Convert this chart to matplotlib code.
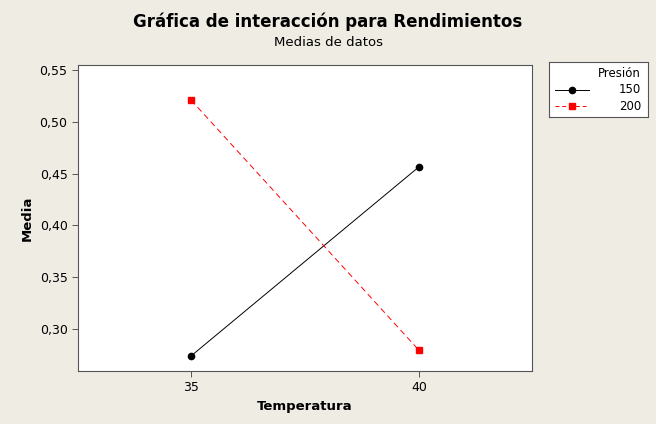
import matplotlib.pyplot as plt
from matplotlib.lines import Line2D

temperatura = [35, 40]
media_150 = [0.274, 0.4565]
media_200 = [0.521, 0.2795]
yticks = [0.30, 0.35, 0.40, 0.45, 0.50, 0.55]

bg = '#EFECE4'
fig = plt.figure(figsize=(6.56, 4.24), dpi=100, facecolor=bg)
ax = fig.add_axes([78/656, 1-371/424, 454/656, 306/424])
ax.set_facecolor('white')

ax.plot(temperatura, media_150, color='black', lw=0.7, marker='o', ms=4.5, label='150')
ax.plot(temperatura, media_200, color='#FF0000', lw=0.7, ls=(0, (6, 4)), marker='s', ms=4.5, label='200')

ax.set_xlim(32.52, 42.48)
ax.set_ylim(0.2595, 0.5548)
ax.set_xticks(temperatura)
ax.set_yticks(yticks)
ax.set_yticklabels([f'{v:.2f}'.replace('.', ',') for v in yticks])
ax.tick_params(labelsize=9, length=4, width=0.7, color='#555555')
for s in ax.spines.values():
    s.set_color('#555555')
    s.set_linewidth(0.8)

ax.set_xlabel('Temperatura', fontsize=9.5, fontweight='bold')
ax.set_ylabel('Media', fontsize=9.5, fontweight='bold')

fig.text(0.5, 1-22/424, 'Gráfica de interacción para Rendimientos', ha='center', va='center',
         fontsize=12, fontweight='bold')
fig.text(0.5, 1-43/424, 'Medias de datos', ha='center', va='center', fontsize=9.5)

# legend box
lax = fig.add_axes([549/656, 1-117/424, 99/656, 55/424])
lax.set_xlim(0, 99)
lax.set_ylim(55, 0)
lax.set_xticks([])
lax.set_yticks([])
for s in lax.spines.values():
    s.set_color('#555555')
    s.set_linewidth(0.8)
lax.text(92, 12, 'Presión', ha='right', va='center', fontsize=8.5)
lax.plot([6, 40], [28, 28], color='black', lw=0.7)
lax.plot([23], [28], color='black', marker='o', ms=4.5)
lax.text(92, 28, '150', ha='right', va='center', fontsize=8.5)
lax.plot([6, 40], [44, 44], color='#FF0000', lw=0.7, ls=(0, (4, 3)))
lax.plot([23], [44], color='#FF0000', marker='s', ms=4.5)
lax.text(92, 44, '200', ha='right', va='center', fontsize=8.5)

fig.savefig('out.png', dpi=100, facecolor=bg)
